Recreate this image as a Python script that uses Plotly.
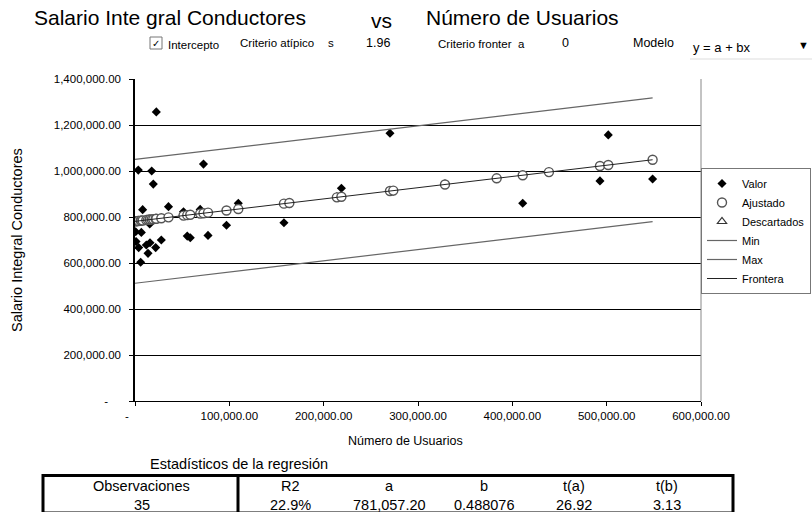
import plotly.graph_objects as go

# ---- datos ----
usuarios = [700, 1100, 3500, 3900, 6000, 6700, 8100, 12000, 13800, 15600, 15900, 17700,
            19400, 21900, 22600, 27900, 35500,
            51400, 55400, 58600, 69100, 72600, 77400, 97000, 109500, 157900, 163600,
            214000, 218800, 270300, 273800,
            328600, 383400, 411000, 438800, 492900, 501700, 548700]
salario = [736000, 693000, 1004000, 667000, 603000, 733000, 832000, 678000, 642000, 770000,
           688000, 1000000, 943000, 667000, 1257000, 700000, 845000,
           823000, 717000, 710000, 833000, 1030000, 720000, 764000, 860000, 775000, 858000,
           889000, 925000, 1164000, 912000,
           944000, 966000, 860000, 998000, 957000, 1157000, 965000]

# estadísticos de la regresión
n_obs = 35
r2 = 0.229
coef_a = 781057.20
coef_b = 0.488076
t_a = 26.92
t_b = 3.13
crit_atipico = 1.96
crit_frontera = 0
error_std = 137300

x_ticks = [0, 100000, 200000, 300000, 400000, 500000, 600000]
y_ticks = [0, 200000, 400000, 600000, 800000, 1000000, 1200000, 1400000]

# ---- geometría de la figura ----
W, H = 812, 512
L, R, T, B = 135, 111, 79, 111
PW, PH = W - L - R, H - T - B


def fx(px):
    return (px - L) / PW


def fy(py):
    return (H - B - py) / PH


FONT = "Liberation Sans, Arial, Helvetica, sans-serif"

ajustado = [coef_a + coef_b * u for u in usuarios]
x_linea = [0, max(usuarios)]
frontera = [coef_a + coef_b * u + crit_frontera * error_std for u in x_linea]
banda_min = [coef_a + coef_b * u - crit_atipico * error_std for u in x_linea]
banda_max = [coef_a + coef_b * u + crit_atipico * error_std for u in x_linea]

fig = go.Figure()
fig.add_trace(go.Scatter(x=usuarios, y=salario, mode="markers", name="Valor",
                         marker=dict(symbol="diamond", size=7, color="black")))
fig.add_trace(go.Scatter(x=usuarios, y=ajustado, mode="markers", name="Ajustado",
                         marker=dict(symbol="circle", size=9, color="white",
                                     line=dict(color="#555555", width=1.4))))
fig.add_trace(go.Scatter(x=[None], y=[None], mode="markers", name="Descartados",
                         marker=dict(symbol="triangle-up-open", size=8, color="#333333",
                                     line=dict(width=1.2))))
fig.add_trace(go.Scatter(x=x_linea, y=banda_min, mode="lines", name="Min",
                         line=dict(color="#666666", width=1.2)))
fig.add_trace(go.Scatter(x=x_linea, y=banda_max, mode="lines", name="Max",
                         line=dict(color="#666666", width=1.2)))
fig.add_trace(go.Scatter(x=x_linea, y=frontera, mode="lines", name="Frontera",
                         line=dict(color="#222222", width=1)))


def fmt_num(v):
    return "-" if v == 0 else f"{v:,.2f}"


nb = "\u00a0"
x_text = [fmt_num(v) if v else "-" + nb * 5 for v in x_ticks]
y_text = [fmt_num(v) if v else "-" + nb * 4 for v in y_ticks]

fig.update_layout(
    width=W, height=H,
    margin=dict(l=L, r=R, t=T, b=B, pad=0, autoexpand=False),
    paper_bgcolor="white", plot_bgcolor="white",
    font=dict(family=FONT, color="black", size=11),
    showlegend=True,
    legend=dict(x=1.0, xanchor="left", y=fy(168), yanchor="top",
                bordercolor="#777777", borderwidth=1, bgcolor="white",
                font=dict(size=11, family=FONT), tracegroupgap=0,
                entrywidth=90, entrywidthmode="pixels",
                itemsizing="trace"),
    xaxis=dict(range=[0, 600000], tickvals=x_ticks, ticktext=x_text,
               showgrid=False, zeroline=False, showline=True, linecolor="black",
               linewidth=1, ticks="outside", ticklen=4, tickcolor="black",
               tickfont=dict(size=11.5), fixedrange=True),
    yaxis=dict(range=[0, 1400000], tickvals=y_ticks, ticktext=y_text,
               showgrid=True, gridcolor="black", gridwidth=1, zeroline=False,
               showline=True, linecolor="black", linewidth=1.5,
               ticks="outside", ticklen=4, tickcolor="black",
               ticklabelstandoff=6, tickfont=dict(size=11.5), fixedrange=True),
)

shapes = []
# borde derecho del área de trazado
shapes.append(dict(type="line", xref="paper", yref="paper", x0=1, x1=1, y0=0, y1=1,
                   line=dict(color="#888888", width=1)))
# casilla del intercepto
shapes.append(dict(type="rect", xref="paper", yref="paper",
                   x0=fx(150), x1=fx(162), y0=fy(49), y1=fy(37),
                   line=dict(color="#777777", width=1)))
# selector de modelo
shapes.append(dict(type="line", xref="paper", yref="paper",
                   x0=fx(690), x1=fx(812), y0=fy(59), y1=fy(59),
                   line=dict(color="#dddddd", width=1)))
# tabla de estadísticos
shapes.append(dict(type="rect", xref="paper", yref="paper",
                   x0=fx(43), x1=fx(733), y0=fy(513), y1=fy(475.5),
                   line=dict(color="black", width=3)))
shapes.append(dict(type="line", xref="paper", yref="paper",
                   x0=fx(238), x1=fx(238), y0=fy(513), y1=fy(475.5),
                   line=dict(color="black", width=3)))

ann = []


def txt(text, px, py, size, anchor="left", angle=0):
    ann.append(dict(text=text, xref="paper", yref="paper", x=fx(px), y=fy(py),
                    xanchor=anchor, yanchor="middle", showarrow=False, textangle=angle,
                    font=dict(size=size, family=FONT, color="black")))


# título
txt("Salario Inte gral Conductores", 32, 18, 21)
txt("vs", 381, 20, 21, "center")
txt("Número de Usuarios", 424, 18, 21)
# controles
txt("\u2713", 156, 43, 10, "center")
txt("Intercepto", 166, 45, 11.5)
txt("Criterio atípico", 238, 43, 11.5)
txt("s", 331, 43, 11.5, "center")
txt(f"{crit_atipico:.2f}", 378, 43, 12.5, "center")
txt("Criterio fronter", 436, 44, 11.5)
txt("a", 521, 44, 11.5, "center")
txt(f"{crit_frontera}", 565, 43, 12.5, "center")
txt("Modelo", 631, 43, 12.5)
txt("y = a + bx", 691, 47, 13)
txt("\u25bc", 803, 45, 11, "center")
# ejes
txt("Salario Integral Conductores", 17, 240, 14.5, "center", -90)
txt("Número de Usuarios", 405, 441, 12.5, "center")
# tabla
txt("Estadísticos de la regresión", 148, 463.5, 14.5)
encabezados = ["Observaciones", "R2", "a", "b", "t(a)", "t(b)"]
valores = [f"{n_obs}", f"{r2:.1%}", f"{coef_a:,.2f}", f"{coef_b:.6f}", f"{t_a:.2f}", f"{t_b:.2f}"]
col_x = [141.5, 290, 389, 484, 574, 667]
for cx, h, v in zip(col_x, encabezados, valores):
    txt(h, cx, 485.5, 14.5, "center")
    txt(v, cx, 504.5, 14.5, "center")

fig.update_layout(shapes=shapes, annotations=ann)
fig.write_html("out.html")
